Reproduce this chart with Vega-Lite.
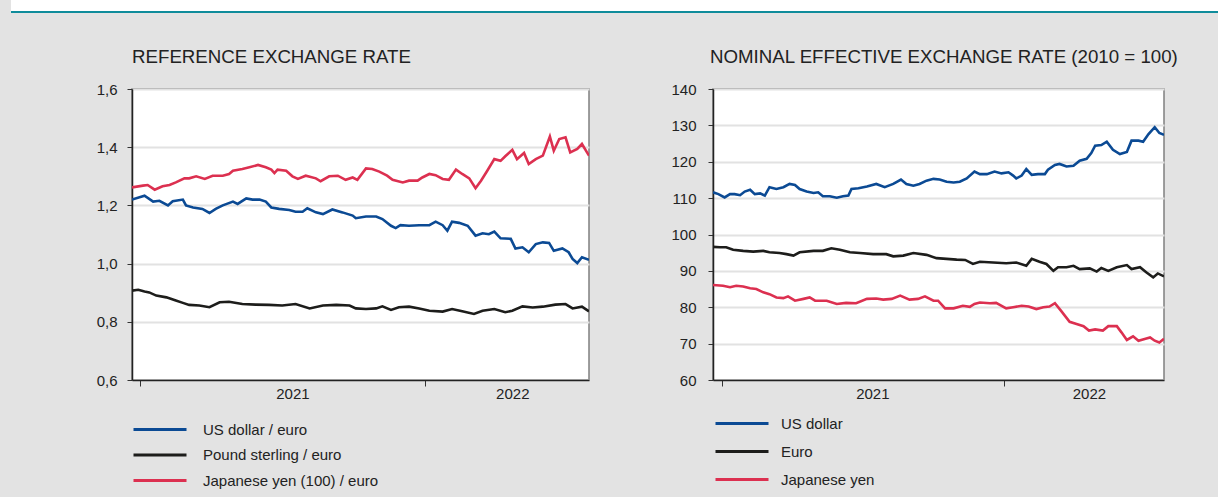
{
"$schema": "https://vega.github.io/schema/vega-lite/v6.json",
"background": "#e3e3e3",
"padding": {"left": 10, "top": 0, "right": 0, "bottom": 7},
"spacing": 34,
"config": {
  "font": "Liberation Sans",
  "axis": {"labelFont": "Liberation Sans", "labelFontSize": 15, "labelColor": "#222", "domainColor": "#222", "domainWidth": 1.5, "tickColor": "#333", "title": null},
  "legend": {"labelFont": "Liberation Sans", "labelFontSize": 15, "labelColor": "#222", "symbolType": "stroke", "symbolSize": 2809, "symbolStrokeWidth": 3, "clipHeight": 15, "padding": 0, "labelOffset": 15, "labelLimit": 0},
  "title": {"font": "Liberation Sans", "fontSize": 18.7, "fontWeight": "normal", "color": "#222", "anchor": "start", "frame": "group", "offset": 15}
},
"datasets": {
"left": [
{"date":"2020-12-22","series":"US dollar / euro","value":1.220},
{"date":"2021-01-07","series":"US dollar / euro","value":1.233},
{"date":"2021-01-18","series":"US dollar / euro","value":1.213},
{"date":"2021-01-26","series":"US dollar / euro","value":1.216},
{"date":"2021-02-06","series":"US dollar / euro","value":1.200},
{"date":"2021-02-12","series":"US dollar / euro","value":1.214},
{"date":"2021-02-25","series":"US dollar / euro","value":1.220},
{"date":"2021-03-01","series":"US dollar / euro","value":1.200},
{"date":"2021-03-10","series":"US dollar / euro","value":1.193},
{"date":"2021-03-22","series":"US dollar / euro","value":1.188},
{"date":"2021-03-31","series":"US dollar / euro","value":1.174},
{"date":"2021-04-08","series":"US dollar / euro","value":1.188},
{"date":"2021-04-17","series":"US dollar / euro","value":1.200},
{"date":"2021-04-30","series":"US dollar / euro","value":1.213},
{"date":"2021-05-06","series":"US dollar / euro","value":1.205},
{"date":"2021-05-17","series":"US dollar / euro","value":1.224},
{"date":"2021-05-25","series":"US dollar / euro","value":1.220},
{"date":"2021-06-03","series":"US dollar / euro","value":1.220},
{"date":"2021-06-11","series":"US dollar / euro","value":1.213},
{"date":"2021-06-18","series":"US dollar / euro","value":1.193},
{"date":"2021-06-28","series":"US dollar / euro","value":1.188},
{"date":"2021-07-11","series":"US dollar / euro","value":1.184},
{"date":"2021-07-19","series":"US dollar / euro","value":1.178},
{"date":"2021-07-28","series":"US dollar / euro","value":1.178},
{"date":"2021-08-03","series":"US dollar / euro","value":1.190},
{"date":"2021-08-14","series":"US dollar / euro","value":1.176},
{"date":"2021-08-23","series":"US dollar / euro","value":1.170},
{"date":"2021-09-04","series":"US dollar / euro","value":1.186},
{"date":"2021-09-17","series":"US dollar / euro","value":1.176},
{"date":"2021-09-30","series":"US dollar / euro","value":1.165},
{"date":"2021-10-04","series":"US dollar / euro","value":1.156},
{"date":"2021-10-17","series":"US dollar / euro","value":1.162},
{"date":"2021-10-30","series":"US dollar / euro","value":1.162},
{"date":"2021-11-07","series":"US dollar / euro","value":1.153},
{"date":"2021-11-18","series":"US dollar / euro","value":1.130},
{"date":"2021-11-24","series":"US dollar / euro","value":1.122},
{"date":"2021-11-30","series":"US dollar / euro","value":1.132},
{"date":"2021-12-11","series":"US dollar / euro","value":1.130},
{"date":"2021-12-24","series":"US dollar / euro","value":1.132},
{"date":"2022-01-06","series":"US dollar / euro","value":1.132},
{"date":"2022-01-14","series":"US dollar / euro","value":1.144},
{"date":"2022-01-23","series":"US dollar / euro","value":1.132},
{"date":"2022-01-29","series":"US dollar / euro","value":1.113},
{"date":"2022-02-04","series":"US dollar / euro","value":1.144},
{"date":"2022-02-13","series":"US dollar / euro","value":1.140},
{"date":"2022-02-24","series":"US dollar / euro","value":1.130},
{"date":"2022-03-06","series":"US dollar / euro","value":1.096},
{"date":"2022-03-15","series":"US dollar / euro","value":1.104},
{"date":"2022-03-23","series":"US dollar / euro","value":1.101},
{"date":"2022-03-30","series":"US dollar / euro","value":1.110},
{"date":"2022-04-07","series":"US dollar / euro","value":1.087},
{"date":"2022-04-20","series":"US dollar / euro","value":1.085},
{"date":"2022-04-26","series":"US dollar / euro","value":1.052},
{"date":"2022-05-05","series":"US dollar / euro","value":1.056},
{"date":"2022-05-13","series":"US dollar / euro","value":1.039},
{"date":"2022-05-22","series":"US dollar / euro","value":1.067},
{"date":"2022-05-31","series":"US dollar / euro","value":1.073},
{"date":"2022-06-08","series":"US dollar / euro","value":1.071},
{"date":"2022-06-14","series":"US dollar / euro","value":1.044},
{"date":"2022-06-25","series":"US dollar / euro","value":1.052},
{"date":"2022-07-03","series":"US dollar / euro","value":1.039},
{"date":"2022-07-08","series":"US dollar / euro","value":1.016},
{"date":"2022-07-14","series":"US dollar / euro","value":1.002},
{"date":"2022-07-20","series":"US dollar / euro","value":1.022},
{"date":"2022-07-29","series":"US dollar / euro","value":1.013},
{"date":"2020-12-22","series":"Pound sterling / euro","value":0.907},
{"date":"2020-12-30","series":"Pound sterling / euro","value":0.910},
{"date":"2021-01-07","series":"Pound sterling / euro","value":0.904},
{"date":"2021-01-13","series":"Pound sterling / euro","value":0.901},
{"date":"2021-01-22","series":"Pound sterling / euro","value":0.890},
{"date":"2021-02-04","series":"Pound sterling / euro","value":0.884},
{"date":"2021-02-16","series":"Pound sterling / euro","value":0.873},
{"date":"2021-02-25","series":"Pound sterling / euro","value":0.865},
{"date":"2021-03-05","series":"Pound sterling / euro","value":0.858},
{"date":"2021-03-18","series":"Pound sterling / euro","value":0.856},
{"date":"2021-03-31","series":"Pound sterling / euro","value":0.850},
{"date":"2021-04-13","series":"Pound sterling / euro","value":0.867},
{"date":"2021-04-25","series":"Pound sterling / euro","value":0.869},
{"date":"2021-05-12","series":"Pound sterling / euro","value":0.861},
{"date":"2021-05-29","series":"Pound sterling / euro","value":0.859},
{"date":"2021-06-15","series":"Pound sterling / euro","value":0.858},
{"date":"2021-07-02","series":"Pound sterling / euro","value":0.856},
{"date":"2021-07-19","series":"Pound sterling / euro","value":0.861},
{"date":"2021-08-06","series":"Pound sterling / euro","value":0.846},
{"date":"2021-08-23","series":"Pound sterling / euro","value":0.856},
{"date":"2021-09-09","series":"Pound sterling / euro","value":0.858},
{"date":"2021-09-26","series":"Pound sterling / euro","value":0.856},
{"date":"2021-10-04","series":"Pound sterling / euro","value":0.846},
{"date":"2021-10-17","series":"Pound sterling / euro","value":0.844},
{"date":"2021-10-30","series":"Pound sterling / euro","value":0.846},
{"date":"2021-11-07","series":"Pound sterling / euro","value":0.853},
{"date":"2021-11-18","series":"Pound sterling / euro","value":0.841},
{"date":"2021-11-28","series":"Pound sterling / euro","value":0.850},
{"date":"2021-12-11","series":"Pound sterling / euro","value":0.852},
{"date":"2021-12-24","series":"Pound sterling / euro","value":0.846},
{"date":"2022-01-06","series":"Pound sterling / euro","value":0.838},
{"date":"2022-01-23","series":"Pound sterling / euro","value":0.835},
{"date":"2022-02-04","series":"Pound sterling / euro","value":0.844},
{"date":"2022-02-17","series":"Pound sterling / euro","value":0.836},
{"date":"2022-03-04","series":"Pound sterling / euro","value":0.827},
{"date":"2022-03-15","series":"Pound sterling / euro","value":0.838},
{"date":"2022-03-30","series":"Pound sterling / euro","value":0.844},
{"date":"2022-04-13","series":"Pound sterling / euro","value":0.833},
{"date":"2022-04-22","series":"Pound sterling / euro","value":0.838},
{"date":"2022-05-05","series":"Pound sterling / euro","value":0.853},
{"date":"2022-05-18","series":"Pound sterling / euro","value":0.849},
{"date":"2022-05-31","series":"Pound sterling / euro","value":0.852},
{"date":"2022-06-16","series":"Pound sterling / euro","value":0.859},
{"date":"2022-06-29","series":"Pound sterling / euro","value":0.861},
{"date":"2022-07-08","series":"Pound sterling / euro","value":0.846},
{"date":"2022-07-20","series":"Pound sterling / euro","value":0.852},
{"date":"2022-07-29","series":"Pound sterling / euro","value":0.836},
{"date":"2020-12-22","series":"Japanese yen (100) / euro","value":1.262},
{"date":"2021-01-05","series":"Japanese yen (100) / euro","value":1.268},
{"date":"2021-01-11","series":"Japanese yen (100) / euro","value":1.270},
{"date":"2021-01-20","series":"Japanese yen (100) / euro","value":1.254},
{"date":"2021-01-30","series":"Japanese yen (100) / euro","value":1.266},
{"date":"2021-02-08","series":"Japanese yen (100) / euro","value":1.270},
{"date":"2021-02-16","series":"Japanese yen (100) / euro","value":1.279},
{"date":"2021-02-27","series":"Japanese yen (100) / euro","value":1.293},
{"date":"2021-03-05","series":"Japanese yen (100) / euro","value":1.293},
{"date":"2021-03-14","series":"Japanese yen (100) / euro","value":1.300},
{"date":"2021-03-25","series":"Japanese yen (100) / euro","value":1.291},
{"date":"2021-04-04","series":"Japanese yen (100) / euro","value":1.302},
{"date":"2021-04-17","series":"Japanese yen (100) / euro","value":1.302},
{"date":"2021-04-25","series":"Japanese yen (100) / euro","value":1.308},
{"date":"2021-04-30","series":"Japanese yen (100) / euro","value":1.319},
{"date":"2021-05-12","series":"Japanese yen (100) / euro","value":1.325},
{"date":"2021-05-21","series":"Japanese yen (100) / euro","value":1.331},
{"date":"2021-06-01","series":"Japanese yen (100) / euro","value":1.339},
{"date":"2021-06-11","series":"Japanese yen (100) / euro","value":1.331},
{"date":"2021-06-18","series":"Japanese yen (100) / euro","value":1.323},
{"date":"2021-06-22","series":"Japanese yen (100) / euro","value":1.311},
{"date":"2021-06-26","series":"Japanese yen (100) / euro","value":1.323},
{"date":"2021-07-07","series":"Japanese yen (100) / euro","value":1.319},
{"date":"2021-07-15","series":"Japanese yen (100) / euro","value":1.300},
{"date":"2021-07-22","series":"Japanese yen (100) / euro","value":1.291},
{"date":"2021-08-01","series":"Japanese yen (100) / euro","value":1.302},
{"date":"2021-08-14","series":"Japanese yen (100) / euro","value":1.293},
{"date":"2021-08-20","series":"Japanese yen (100) / euro","value":1.283},
{"date":"2021-08-31","series":"Japanese yen (100) / euro","value":1.300},
{"date":"2021-09-11","series":"Japanese yen (100) / euro","value":1.302},
{"date":"2021-09-21","series":"Japanese yen (100) / euro","value":1.288},
{"date":"2021-09-30","series":"Japanese yen (100) / euro","value":1.296},
{"date":"2021-10-06","series":"Japanese yen (100) / euro","value":1.288},
{"date":"2021-10-17","series":"Japanese yen (100) / euro","value":1.327},
{"date":"2021-10-25","series":"Japanese yen (100) / euro","value":1.325},
{"date":"2021-11-03","series":"Japanese yen (100) / euro","value":1.316},
{"date":"2021-11-13","series":"Japanese yen (100) / euro","value":1.302},
{"date":"2021-11-20","series":"Japanese yen (100) / euro","value":1.288},
{"date":"2021-12-03","series":"Japanese yen (100) / euro","value":1.279},
{"date":"2021-12-11","series":"Japanese yen (100) / euro","value":1.285},
{"date":"2021-12-22","series":"Japanese yen (100) / euro","value":1.285},
{"date":"2021-12-28","series":"Japanese yen (100) / euro","value":1.296},
{"date":"2022-01-06","series":"Japanese yen (100) / euro","value":1.308},
{"date":"2022-01-14","series":"Japanese yen (100) / euro","value":1.304},
{"date":"2022-01-23","series":"Japanese yen (100) / euro","value":1.291},
{"date":"2022-01-31","series":"Japanese yen (100) / euro","value":1.288},
{"date":"2022-02-09","series":"Japanese yen (100) / euro","value":1.323},
{"date":"2022-02-17","series":"Japanese yen (100) / euro","value":1.308},
{"date":"2022-02-26","series":"Japanese yen (100) / euro","value":1.293},
{"date":"2022-03-06","series":"Japanese yen (100) / euro","value":1.259},
{"date":"2022-03-13","series":"Japanese yen (100) / euro","value":1.285},
{"date":"2022-03-21","series":"Japanese yen (100) / euro","value":1.319},
{"date":"2022-03-30","series":"Japanese yen (100) / euro","value":1.359},
{"date":"2022-04-07","series":"Japanese yen (100) / euro","value":1.353},
{"date":"2022-04-13","series":"Japanese yen (100) / euro","value":1.369},
{"date":"2022-04-22","series":"Japanese yen (100) / euro","value":1.391},
{"date":"2022-04-28","series":"Japanese yen (100) / euro","value":1.359},
{"date":"2022-05-07","series":"Japanese yen (100) / euro","value":1.380},
{"date":"2022-05-13","series":"Japanese yen (100) / euro","value":1.342},
{"date":"2022-05-22","series":"Japanese yen (100) / euro","value":1.359},
{"date":"2022-05-31","series":"Japanese yen (100) / euro","value":1.371},
{"date":"2022-06-09","series":"Japanese yen (100) / euro","value":1.437},
{"date":"2022-06-14","series":"Japanese yen (100) / euro","value":1.388},
{"date":"2022-06-21","series":"Japanese yen (100) / euro","value":1.428},
{"date":"2022-06-29","series":"Japanese yen (100) / euro","value":1.434},
{"date":"2022-07-05","series":"Japanese yen (100) / euro","value":1.382},
{"date":"2022-07-14","series":"Japanese yen (100) / euro","value":1.394},
{"date":"2022-07-20","series":"Japanese yen (100) / euro","value":1.411},
{"date":"2022-07-29","series":"Japanese yen (100) / euro","value":1.371}
],
"right": [
{"date":"2020-12-21","series":"US dollar","value":111.6},
{"date":"2020-12-28","series":"US dollar","value":111.1},
{"date":"2021-01-05","series":"US dollar","value":110.2},
{"date":"2021-01-12","series":"US dollar","value":111.1},
{"date":"2021-01-18","series":"US dollar","value":111.1},
{"date":"2021-01-25","series":"US dollar","value":110.8},
{"date":"2021-01-31","series":"US dollar","value":111.8},
{"date":"2021-02-07","series":"US dollar","value":112.3},
{"date":"2021-02-13","series":"US dollar","value":111.1},
{"date":"2021-02-20","series":"US dollar","value":111.3},
{"date":"2021-02-26","series":"US dollar","value":110.7},
{"date":"2021-03-04","series":"US dollar","value":113.0},
{"date":"2021-03-13","series":"US dollar","value":112.5},
{"date":"2021-03-22","series":"US dollar","value":113.0},
{"date":"2021-03-30","series":"US dollar","value":113.9},
{"date":"2021-04-06","series":"US dollar","value":113.6},
{"date":"2021-04-12","series":"US dollar","value":112.5},
{"date":"2021-04-21","series":"US dollar","value":111.8},
{"date":"2021-04-30","series":"US dollar","value":111.4},
{"date":"2021-05-06","series":"US dollar","value":111.6},
{"date":"2021-05-12","series":"US dollar","value":110.5},
{"date":"2021-05-21","series":"US dollar","value":110.5},
{"date":"2021-05-30","series":"US dollar","value":110.1},
{"date":"2021-06-07","series":"US dollar","value":110.5},
{"date":"2021-06-14","series":"US dollar","value":110.7},
{"date":"2021-06-18","series":"US dollar","value":112.5},
{"date":"2021-06-27","series":"US dollar","value":112.7},
{"date":"2021-07-08","series":"US dollar","value":113.2},
{"date":"2021-07-20","series":"US dollar","value":113.9},
{"date":"2021-07-31","series":"US dollar","value":113.0},
{"date":"2021-08-11","series":"US dollar","value":113.9},
{"date":"2021-08-21","series":"US dollar","value":115.1},
{"date":"2021-08-28","series":"US dollar","value":113.9},
{"date":"2021-09-06","series":"US dollar","value":113.4},
{"date":"2021-09-14","series":"US dollar","value":113.9},
{"date":"2021-09-23","series":"US dollar","value":114.8},
{"date":"2021-10-02","series":"US dollar","value":115.3},
{"date":"2021-10-10","series":"US dollar","value":115.1},
{"date":"2021-10-19","series":"US dollar","value":114.5},
{"date":"2021-10-28","series":"US dollar","value":114.3},
{"date":"2021-11-05","series":"US dollar","value":114.5},
{"date":"2021-11-14","series":"US dollar","value":115.4},
{"date":"2021-11-24","series":"US dollar","value":117.3},
{"date":"2021-12-01","series":"US dollar","value":116.6},
{"date":"2021-12-10","series":"US dollar","value":116.6},
{"date":"2021-12-20","series":"US dollar","value":117.3},
{"date":"2021-12-29","series":"US dollar","value":116.8},
{"date":"2022-01-07","series":"US dollar","value":117.1},
{"date":"2022-01-13","series":"US dollar","value":116.2},
{"date":"2022-01-17","series":"US dollar","value":115.4},
{"date":"2022-01-24","series":"US dollar","value":116.2},
{"date":"2022-01-30","series":"US dollar","value":118.0},
{"date":"2022-02-06","series":"US dollar","value":116.4},
{"date":"2022-02-14","series":"US dollar","value":116.6},
{"date":"2022-02-23","series":"US dollar","value":116.6},
{"date":"2022-02-27","series":"US dollar","value":117.8},
{"date":"2022-03-08","series":"US dollar","value":119.1},
{"date":"2022-03-14","series":"US dollar","value":119.4},
{"date":"2022-03-23","series":"US dollar","value":118.7},
{"date":"2022-04-01","series":"US dollar","value":118.9},
{"date":"2022-04-09","series":"US dollar","value":120.3},
{"date":"2022-04-18","series":"US dollar","value":120.8},
{"date":"2022-04-24","series":"US dollar","value":122.4},
{"date":"2022-04-29","series":"US dollar","value":124.4},
{"date":"2022-05-07","series":"US dollar","value":124.6},
{"date":"2022-05-14","series":"US dollar","value":125.5},
{"date":"2022-05-22","series":"US dollar","value":123.3},
{"date":"2022-05-31","series":"US dollar","value":122.1},
{"date":"2022-06-09","series":"US dollar","value":122.7},
{"date":"2022-06-15","series":"US dollar","value":125.8},
{"date":"2022-06-24","series":"US dollar","value":125.8},
{"date":"2022-06-30","series":"US dollar","value":125.5},
{"date":"2022-07-07","series":"US dollar","value":127.6},
{"date":"2022-07-15","series":"US dollar","value":129.5},
{"date":"2022-07-21","series":"US dollar","value":127.9},
{"date":"2022-07-27","series":"US dollar","value":127.4},
{"date":"2020-12-21","series":"Euro","value":96.6},
{"date":"2020-12-30","series":"Euro","value":96.5},
{"date":"2021-01-07","series":"Euro","value":96.5},
{"date":"2021-01-16","series":"Euro","value":95.8},
{"date":"2021-01-29","series":"Euro","value":95.5},
{"date":"2021-02-11","series":"Euro","value":95.3},
{"date":"2021-02-24","series":"Euro","value":95.5},
{"date":"2021-03-04","series":"Euro","value":95.1},
{"date":"2021-03-17","series":"Euro","value":94.9},
{"date":"2021-03-26","series":"Euro","value":94.6},
{"date":"2021-04-04","series":"Euro","value":94.2},
{"date":"2021-04-12","series":"Euro","value":95.1},
{"date":"2021-04-30","series":"Euro","value":95.5},
{"date":"2021-05-12","series":"Euro","value":95.5},
{"date":"2021-05-23","series":"Euro","value":96.2},
{"date":"2021-06-03","series":"Euro","value":95.8},
{"date":"2021-06-16","series":"Euro","value":95.1},
{"date":"2021-06-29","series":"Euro","value":94.9},
{"date":"2021-07-16","series":"Euro","value":94.6},
{"date":"2021-08-02","series":"Euro","value":94.6},
{"date":"2021-08-11","series":"Euro","value":94.0},
{"date":"2021-08-24","series":"Euro","value":94.2},
{"date":"2021-09-06","series":"Euro","value":94.9},
{"date":"2021-09-23","series":"Euro","value":94.4},
{"date":"2021-10-06","series":"Euro","value":93.5},
{"date":"2021-10-19","series":"Euro","value":93.3},
{"date":"2021-11-01","series":"Euro","value":93.1},
{"date":"2021-11-12","series":"Euro","value":93.0},
{"date":"2021-11-22","series":"Euro","value":91.9},
{"date":"2021-12-01","series":"Euro","value":92.5},
{"date":"2021-12-18","series":"Euro","value":92.3},
{"date":"2022-01-04","series":"Euro","value":92.1},
{"date":"2022-01-17","series":"Euro","value":92.3},
{"date":"2022-01-30","series":"Euro","value":91.4},
{"date":"2022-02-06","series":"Euro","value":93.3},
{"date":"2022-02-16","series":"Euro","value":92.5},
{"date":"2022-02-25","series":"Euro","value":91.9},
{"date":"2022-03-06","series":"Euro","value":90.0},
{"date":"2022-03-12","series":"Euro","value":91.0},
{"date":"2022-03-23","series":"Euro","value":91.0},
{"date":"2022-04-01","series":"Euro","value":91.4},
{"date":"2022-04-09","series":"Euro","value":90.5},
{"date":"2022-04-22","series":"Euro","value":90.7},
{"date":"2022-05-01","series":"Euro","value":89.8},
{"date":"2022-05-07","series":"Euro","value":90.8},
{"date":"2022-05-16","series":"Euro","value":90.0},
{"date":"2022-05-27","series":"Euro","value":91.0},
{"date":"2022-06-09","series":"Euro","value":91.6},
{"date":"2022-06-15","series":"Euro","value":90.5},
{"date":"2022-06-26","series":"Euro","value":91.0},
{"date":"2022-07-04","series":"Euro","value":89.6},
{"date":"2022-07-13","series":"Euro","value":88.2},
{"date":"2022-07-19","series":"Euro","value":89.3},
{"date":"2022-07-27","series":"Euro","value":88.5},
{"date":"2020-12-21","series":"Japanese yen","value":86.1},
{"date":"2021-01-03","series":"Japanese yen","value":85.9},
{"date":"2021-01-12","series":"Japanese yen","value":85.5},
{"date":"2021-01-20","series":"Japanese yen","value":85.9},
{"date":"2021-01-29","series":"Japanese yen","value":85.7},
{"date":"2021-02-07","series":"Japanese yen","value":85.2},
{"date":"2021-02-15","series":"Japanese yen","value":85.0},
{"date":"2021-02-24","series":"Japanese yen","value":84.1},
{"date":"2021-03-04","series":"Japanese yen","value":83.6},
{"date":"2021-03-13","series":"Japanese yen","value":82.7},
{"date":"2021-03-22","series":"Japanese yen","value":82.5},
{"date":"2021-03-28","series":"Japanese yen","value":83.0},
{"date":"2021-04-06","series":"Japanese yen","value":81.8},
{"date":"2021-04-17","series":"Japanese yen","value":82.3},
{"date":"2021-04-25","series":"Japanese yen","value":82.7},
{"date":"2021-05-02","series":"Japanese yen","value":81.8},
{"date":"2021-05-17","series":"Japanese yen","value":81.8},
{"date":"2021-05-30","series":"Japanese yen","value":80.9},
{"date":"2021-06-11","series":"Japanese yen","value":81.2},
{"date":"2021-06-24","series":"Japanese yen","value":81.1},
{"date":"2021-07-08","series":"Japanese yen","value":82.3},
{"date":"2021-07-20","series":"Japanese yen","value":82.4},
{"date":"2021-07-29","series":"Japanese yen","value":82.1},
{"date":"2021-08-09","series":"Japanese yen","value":82.3},
{"date":"2021-08-20","series":"Japanese yen","value":83.2},
{"date":"2021-09-01","series":"Japanese yen","value":82.1},
{"date":"2021-09-12","series":"Japanese yen","value":82.3},
{"date":"2021-09-21","series":"Japanese yen","value":83.0},
{"date":"2021-10-02","series":"Japanese yen","value":81.8},
{"date":"2021-10-08","series":"Japanese yen","value":81.8},
{"date":"2021-10-17","series":"Japanese yen","value":79.7},
{"date":"2021-10-28","series":"Japanese yen","value":79.7},
{"date":"2021-11-09","series":"Japanese yen","value":80.4},
{"date":"2021-11-18","series":"Japanese yen","value":80.1},
{"date":"2021-11-24","series":"Japanese yen","value":80.9},
{"date":"2021-12-01","series":"Japanese yen","value":81.3},
{"date":"2021-12-14","series":"Japanese yen","value":81.1},
{"date":"2021-12-22","series":"Japanese yen","value":81.2},
{"date":"2022-01-04","series":"Japanese yen","value":79.7},
{"date":"2022-01-13","series":"Japanese yen","value":80.0},
{"date":"2022-01-24","series":"Japanese yen","value":80.4},
{"date":"2022-02-02","series":"Japanese yen","value":80.2},
{"date":"2022-02-12","series":"Japanese yen","value":79.5},
{"date":"2022-02-21","series":"Japanese yen","value":80.0},
{"date":"2022-03-01","series":"Japanese yen","value":80.2},
{"date":"2022-03-08","series":"Japanese yen","value":81.1},
{"date":"2022-03-16","series":"Japanese yen","value":79.0},
{"date":"2022-03-27","series":"Japanese yen","value":76.0},
{"date":"2022-04-05","series":"Japanese yen","value":75.4},
{"date":"2022-04-14","series":"Japanese yen","value":74.8},
{"date":"2022-04-21","series":"Japanese yen","value":73.6},
{"date":"2022-04-29","series":"Japanese yen","value":73.9},
{"date":"2022-05-09","series":"Japanese yen","value":73.6},
{"date":"2022-05-16","series":"Japanese yen","value":74.8},
{"date":"2022-05-27","series":"Japanese yen","value":74.8},
{"date":"2022-06-02","series":"Japanese yen","value":73.1},
{"date":"2022-06-09","series":"Japanese yen","value":71.0},
{"date":"2022-06-17","series":"Japanese yen","value":72.0},
{"date":"2022-06-24","series":"Japanese yen","value":70.8},
{"date":"2022-07-02","series":"Japanese yen","value":71.3},
{"date":"2022-07-09","series":"Japanese yen","value":71.7},
{"date":"2022-07-15","series":"Japanese yen","value":70.8},
{"date":"2022-07-21","series":"Japanese yen","value":70.3},
{"date":"2022-07-27","series":"Japanese yen","value":71.3}
]
},
"vconcat": [
  {
    "width": 1208, "height": 12,
    "view": {"fill": "white", "stroke": null},
    "data": {"values": [{}]},
    "mark": {"type": "rule", "color": "#0f8c9b", "strokeWidth": 2},
    "encoding": {"y": {"datum": 0, "type": "quantitative", "scale": {"domain": [0, 1]}, "axis": null}}
  },
  {
    "spacing": 80,
    "resolve": {"scale": {"color": "independent", "x": "independent", "y": "independent"}, "legend": {"color": "independent"}},
    "hconcat": [
      {
        "width": 4, "height": 10,
        "view": {"stroke": null},
        "data": {"values": []},
        "mark": {"type": "point", "opacity": 0},
        "encoding": {}
      },
      {
        "width": 457, "height": 291,
        "title": {"text": "REFERENCE EXCHANGE RATE"},
        "view": {"fill": "white", "stroke": "#808080", "strokeWidth": 1.5},
        "data": {"name": "left"},
        "mark": {"type": "line", "strokeWidth": 2.6, "clip": true},
        "encoding": {
          "x": {"field": "date", "type": "temporal",
            "scale": {"domain": [{"year": 2020, "month": 12, "date": 22, "utc": true}, {"year": 2022, "month": 7, "date": 29, "utc": true}]},
            "axis": {"values": [{"year": 2021, "month": 1, "date": 1, "utc": true}, {"year": 2021, "month": 7, "date": 15, "utc": true}, {"year": 2022, "month": 1, "date": 1, "utc": true}, {"year": 2022, "month": 4, "date": 22, "utc": true}],
              "labelExpr": "utcdate(datum.value) == 1 ? '' : utcFormat(datum.value, '%Y')",
              "tickOpacity": {"condition": {"test": "utcdate(datum.value) == 1", "value": 1}, "value": 0},
              "grid": false, "tickSize": 6, "labelPadding": 0, "labelOverlap": false, "labelFlush": false, "labelBound": false}},
          "y": {"field": "value", "type": "quantitative",
            "scale": {"domain": [0.6, 1.6], "nice": false, "zero": false},
            "axis": {"values": [0.6, 0.8, 1.0, 1.2, 1.4, 1.6], "labelExpr": "replace(format(datum.value, '.1f'), '.', ',')",
              "grid": true, "gridColor": "#e2e2e2", "gridWidth": 2, "tickSize": 5, "labelPadding": 10}},
          "color": {"field": "series", "type": "nominal",
            "scale": {"domain": ["US dollar / euro", "Pound sterling / euro", "Japanese yen (100) / euro"], "range": ["#0b4a94", "#1d1d1b", "#dc3050"]},
            "legend": {"orient": "none", "legendX": 0, "legendY": 333, "title": null, "direction": "vertical", "rowPadding": 9.5, "labelOffset": 15, "labelLimit": 0}}
        }
      },
      {
        "width": 451, "height": 291,
        "title": {"text": "NOMINAL EFFECTIVE EXCHANGE RATE (2010 = 100)", "dx": -3},
        "view": {"fill": "white", "stroke": "#808080", "strokeWidth": 1.5},
        "data": {"name": "right"},
        "mark": {"type": "line", "strokeWidth": 2.6, "clip": true},
        "encoding": {
          "x": {"field": "date", "type": "temporal",
            "scale": {"domain": [{"year": 2020, "month": 12, "date": 21, "utc": true}, {"year": 2022, "month": 7, "date": 27, "utc": true}]},
            "axis": {"values": [{"year": 2021, "month": 1, "date": 1, "utc": true}, {"year": 2021, "month": 7, "date": 15, "utc": true}, {"year": 2022, "month": 1, "date": 1, "utc": true}, {"year": 2022, "month": 4, "date": 21, "utc": true}],
              "labelExpr": "utcdate(datum.value) == 1 ? '' : utcFormat(datum.value, '%Y')",
              "tickOpacity": {"condition": {"test": "utcdate(datum.value) == 1", "value": 1}, "value": 0},
              "grid": false, "tickSize": 6, "labelPadding": 0, "labelOverlap": false, "labelFlush": false, "labelBound": false}},
          "y": {"field": "value", "type": "quantitative",
            "scale": {"domain": [60, 140], "nice": false, "zero": false},
            "axis": {"values": [60, 70, 80, 90, 100, 110, 120, 130, 140], "format": "d",
              "grid": true, "gridColor": "#e2e2e2", "gridWidth": 2, "tickSize": 5, "labelPadding": 12}},
          "color": {"field": "series", "type": "nominal",
            "scale": {"domain": ["US dollar", "Euro", "Japanese yen"], "range": ["#0b4a94", "#1d1d1b", "#dc3050"]},
            "legend": {"orient": "none", "legendX": 1, "legendY": 327, "title": null, "direction": "vertical", "rowPadding": 12, "labelOffset": 11, "labelLimit": 0}}
        }
      }
    ]
  }
]
}
